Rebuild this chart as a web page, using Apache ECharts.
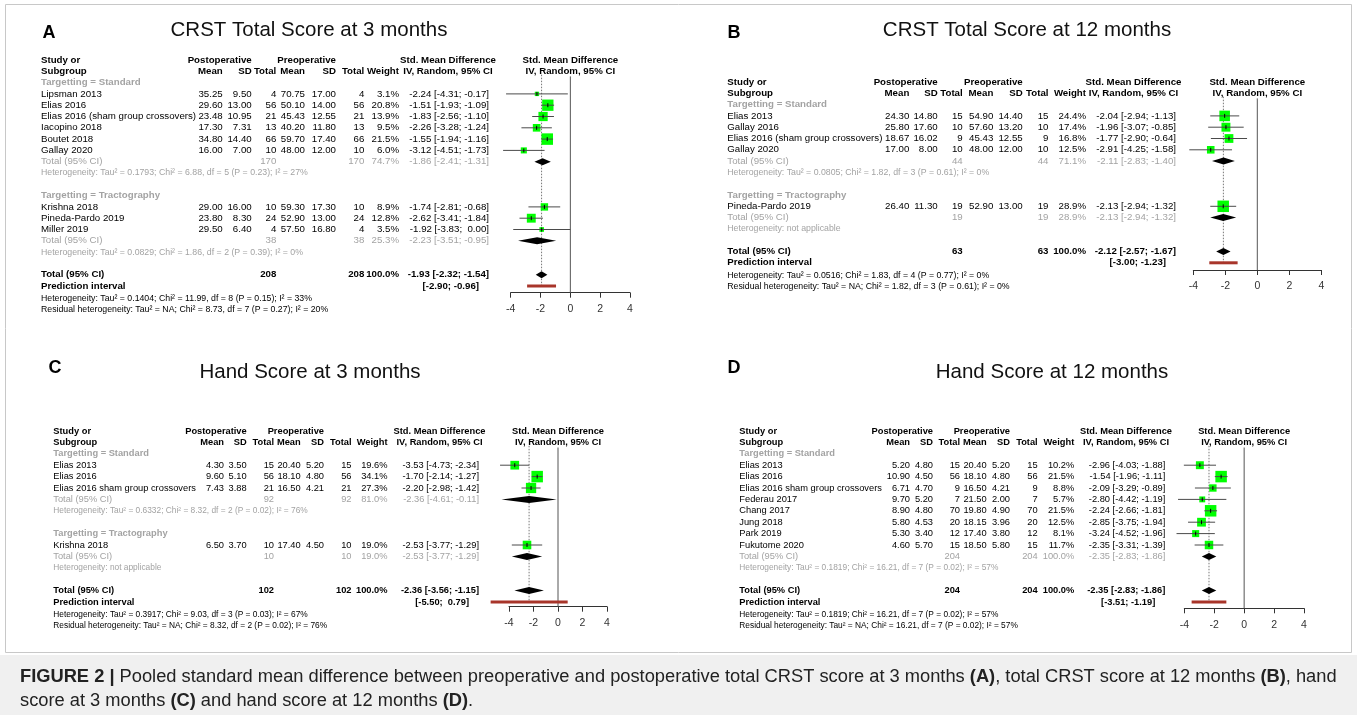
<!DOCTYPE html>
<html><head><meta charset="utf-8">
<script src="https://cdn.jsdelivr.net/npm/echarts@6/dist/echarts.min.js"></script>
<style>html,body{margin:0;padding:0;background:#fff}#c{width:1357px;height:715px}</style>
</head><body><div id="c"></div>
<script>
// ---------------- DATA ----------------
const TICKS = [-4, -2, 0, 2, 4];
const GROUPS = ['Targetting = Standard', 'Targetting = Tractography'];

// Panel A: CRST Total Score at 3 months
const A_studies = ['Lipsman 2013','Elias 2016','Elias 2016 (sham group crossovers)','Iacopino 2018','Boutet 2018','Gallay 2020','Krishna 2018','Pineda-Pardo 2019','Miller 2019'];
const A_group = [0,0,0,0,0,0,1,1,1];
const A_postMean = [35.25,29.60,23.48,17.30,34.80,16.00,29.00,23.80,29.50];
const A_postSD = [9.50,13.00,10.95,7.31,14.40,7.00,16.00,8.30,6.40];
const A_postN = [4,56,21,13,66,10,10,24,4];
const A_preMean = [70.75,50.10,45.43,40.20,59.70,48.00,59.30,52.90,57.50];
const A_preSD = [17.00,14.00,12.55,11.80,17.40,12.00,17.30,13.00,16.80];
const A_preN = [4,56,21,13,66,10,10,24,4];
const A_weight = [3.1,20.8,13.9,9.5,21.5,6.0,8.9,12.8,3.5];
const A_smd = [-2.24,-1.51,-1.83,-2.26,-1.55,-3.12,-1.74,-2.62,-1.92];
const A_lo = [-4.31,-1.93,-2.56,-3.28,-1.94,-4.51,-2.81,-3.41,-3.83];
const A_hi = [-0.17,-1.09,-1.10,-1.24,-1.16,-1.73,-0.68,-1.84,0.00];
const A_subN = [170,38];
const A_subW = [74.7,25.3];
const A_subSmd = [-1.86,-2.23];
const A_subLo = [-2.41,-3.51];
const A_subHi = [-1.31,-0.95];
const A_subHet = ['Heterogeneity: Tau² = 0.1793; Chi² = 6.88, df = 5 (P = 0.23); I² = 27%','Heterogeneity: Tau² = 0.0829; Chi² = 1.86, df = 2 (P = 0.39); I² = 0%'];
const A_total = [208,-1.93,-2.32,-1.54];
const A_pred = [-2.90,-0.96];
const A_het = ['Heterogeneity: Tau² = 0.1404; Chi² = 11.99, df = 8 (P = 0.15); I² = 33%','Residual heterogeneity: Tau² = NA; Chi² = 8.73, df = 7 (P = 0.27); I² = 20%'];

// Panel B: CRST Total Score at 12 months
const B_studies = ['Elias 2013','Gallay 2016','Elias 2016 (sham group crossovers)','Gallay 2020','Pineda-Pardo 2019'];
const B_group = [0,0,0,0,1];
const B_postMean = [24.30,25.80,18.67,17.00,26.40];
const B_postSD = [14.80,17.60,16.02,8.00,11.30];
const B_postN = [15,10,9,10,19];
const B_preMean = [54.90,57.60,45.43,48.00,52.90];
const B_preSD = [14.40,13.20,12.55,12.00,13.00];
const B_preN = [15,10,9,10,19];
const B_weight = [24.4,17.4,16.8,12.5,28.9];
const B_smd = [-2.04,-1.96,-1.77,-2.91,-2.13];
const B_lo = [-2.94,-3.07,-2.90,-4.25,-2.94];
const B_hi = [-1.13,-0.85,-0.64,-1.58,-1.32];
const B_subN = [44,19];
const B_subW = [71.1,28.9];
const B_subSmd = [-2.11,-2.13];
const B_subLo = [-2.83,-2.94];
const B_subHi = [-1.40,-1.32];
const B_subHet = ['Heterogeneity: Tau² = 0.0805; Chi² = 1.82, df = 3 (P = 0.61); I² = 0%','Heterogeneity: not applicable'];
const B_total = [63,-2.12,-2.57,-1.67];
const B_pred = [-3.00,-1.23];
const B_het = ['Heterogeneity: Tau² = 0.0516; Chi² = 1.83, df = 4 (P = 0.77); I² = 0%','Residual heterogeneity: Tau² = NA; Chi² = 1.82, df = 3 (P = 0.61); I² = 0%'];

// Panel C: Hand Score at 3 months
const C_studies = ['Elias 2013','Elias 2016','Elias 2016 sham group crossovers','Krishna 2018'];
const C_group = [0,0,0,1];
const C_postMean = [4.30,9.60,7.43,6.50];
const C_postSD = [3.50,5.10,3.88,3.70];
const C_postN = [15,56,21,10];
const C_preMean = [20.40,18.10,16.50,17.40];
const C_preSD = [5.20,4.80,4.21,4.50];
const C_preN = [15,56,21,10];
const C_weight = [19.6,34.1,27.3,19.0];
const C_smd = [-3.53,-1.70,-2.20,-2.53];
const C_lo = [-4.73,-2.14,-2.98,-3.77];
const C_hi = [-2.34,-1.27,-1.42,-1.29];
const C_subN = [92,10];
const C_subW = [81.0,19.0];
const C_subSmd = [-2.36,-2.53];
const C_subLo = [-4.61,-3.77];
const C_subHi = [-0.11,-1.29];
const C_subHet = ['Heterogeneity: Tau² = 0.6332; Chi² = 8.32, df = 2 (P = 0.02); I² = 76%','Heterogeneity: not applicable'];
const C_total = [102,-2.36,-3.56,-1.15];
const C_pred = [-5.50,0.79];
const C_het = ['Heterogeneity: Tau² = 0.3917; Chi² = 9.03, df = 3 (P = 0.03); I² = 67%','Residual heterogeneity: Tau² = NA; Chi² = 8.32, df = 2 (P = 0.02); I² = 76%'];

// Panel D: Hand Score at 12 months
const D_studies = ['Elias 2013','Elias 2016','Elias 2016 sham group crossovers','Federau 2017','Chang 2017','Jung 2018','Park 2019','Fukutome 2020'];
const D_group = [0,0,0,0,0,0,0,0];
const D_postMean = [5.20,10.90,6.71,9.70,8.90,5.80,5.30,4.60];
const D_postSD = [4.80,4.50,4.70,5.20,4.80,4.53,3.40,5.70];
const D_postN = [15,56,9,7,70,20,12,15];
const D_preMean = [20.40,18.10,16.50,21.50,19.80,18.15,17.40,18.50];
const D_preSD = [5.20,4.80,4.21,2.00,4.90,3.96,3.80,5.80];
const D_preN = [15,56,9,7,70,20,12,15];
const D_weight = [10.2,21.5,8.8,5.7,21.5,12.5,8.1,11.7];
const D_smd = [-2.96,-1.54,-2.09,-2.80,-2.24,-2.85,-3.24,-2.35];
const D_lo = [-4.03,-1.96,-3.29,-4.42,-2.66,-3.75,-4.52,-3.31];
const D_hi = [-1.88,-1.11,-0.89,-1.19,-1.81,-1.94,-1.96,-1.39];
const D_subN = [204];
const D_subW = [100.0];
const D_subSmd = [-2.35];
const D_subLo = [-2.83];
const D_subHi = [-1.86];
const D_subHet = ['Heterogeneity: Tau² = 0.1819; Chi² = 16.21, df = 7 (P = 0.02); I² = 57%'];
const D_total = [204,-2.35,-2.83,-1.86];
const D_pred = [-3.51,-1.19];
const D_het = ['Heterogeneity: Tau² = 0.1819; Chi² = 16.21, df = 7 (P = 0.02); I² = 57%','Residual heterogeneity: Tau² = NA; Chi² = 16.21, df = 7 (P = 0.02); I² = 57%'];

const TITLES = ['CRST Total Score at 3 months','CRST Total Score at 12 months','Hand Score at 3 months','Hand Score at 12 months'];
const LETTERS = ['A','B','C','D'];

// ---------------- LAYOUT ----------------
const FF = '"Liberation Sans", Arial, Helvetica, sans-serif';
const BLACK = '#000', GRAY = '#a3a3a3';
const LAY = [
  {row0:60, rowH:11.3, fs:9.7, fsh:8.75, sx:41, cols:[222.7,251.7,276.3,305,336,364.3,399], ciR:489, ciC:448, x0:510.7, x1:630, axisY:292.7,
   title:[309,30], letter:[49,33]},
  {row0:82, rowH:11.3, fs:9.7, fsh:8.75, sx:727.3, cols:[909.3,937.7,962.7,993.3,1022.7,1048.5,1086], ciR:1176, ciC:1133.5, x0:1193.3, x1:1321.3, axisY:270,
   title:[1027,30], letter:[734,33]},
  {row0:431, rowH:11.4, fs:9.3, fsh:8.35, sx:53.3, cols:[224,246.7,274,300.7,324,351.5,387.5], ciR:479, ciC:439.5, x0:509, x1:607, axisY:606.7,
   title:[310,372], letter:[55,368]},
  {row0:431, rowH:11.4, fs:9.3, fsh:8.35, sx:739.3, cols:[910,933,960,986.7,1010,1037.7,1074.3], ciR:1165.3, ciC:1126, x0:1184.3, x1:1304, axisY:608.3,
   title:[1052,372], letter:[734,368]}
];

function mk(p){ return {studies:eval(p+'_studies'),group:eval(p+'_group'),postMean:eval(p+'_postMean'),postSD:eval(p+'_postSD'),postN:eval(p+'_postN'),
  preMean:eval(p+'_preMean'),preSD:eval(p+'_preSD'),preN:eval(p+'_preN'),weight:eval(p+'_weight'),smd:eval(p+'_smd'),lo:eval(p+'_lo'),hi:eval(p+'_hi'),
  subN:eval(p+'_subN'),subW:eval(p+'_subW'),subSmd:eval(p+'_subSmd'),subLo:eval(p+'_subLo'),subHi:eval(p+'_subHi'),subHet:eval(p+'_subHet'),
  total:eval(p+'_total'),pred:eval(p+'_pred'),het:eval(p+'_het')}; }
const PANELS = ['A','B','C','D'].map(mk);

function f2(v){ return v.toFixed(2); }
function fb(v){ return (v < 0 ? '' : ' ') + v.toFixed(2); }
function ci(s,l,h){ return fb(s) + ' [' + fb(l) + '; ' + fb(h) + ']'; }

function T(x,y,text,o){
  o = o || {};
  const al = o.align || 'left';
  return {type:'text', x:x, y:y, silent:true, z:10,
    style:{text:text, fontFamily:FF, fontSize:o.size||9.7, fontWeight:o.bold?'bold':'normal', fill:o.color||BLACK,
      align:al, textAlign:al, verticalAlign:'middle', textVerticalAlign:'middle'}};
}

const grids=[], xAxes=[], yAxes=[], series=[], graphics=[];

graphics.push({type:'rect', shape:{x:5.5,y:4.5,width:1346,height:648}, style:{fill:'none', stroke:'#c8c8c8', lineWidth:1}, silent:true});

PANELS.forEach((P, gi) => {
  const L = LAY[gi];
  const t = (x,y,text,o) => { o = Object.assign({size:L.fs}, o||{}); graphics.push(T(x,y,text,o)); };
  const nG = P.subN.length;
  const rows = [{k:'h1'},{k:'h2'}];
  for (let g=0; g<nG; g++){
    rows.push({k:'sub', g});
    P.studies.forEach((s,i)=>{ if (P.group[i]===g) rows.push({k:'study', i}); });
    rows.push({k:'subtot', g}); rows.push({k:'subhet', g}); rows.push({k:'blank'});
  }
  rows.push({k:'tot'},{k:'pred'},{k:'het',j:0},{k:'het',j:1});
  const Y = r => L.row0 + r*L.rowH;
  const C = L.cols;
  const xc = (L.x0+L.x1)/2;
  const maxW = Math.max(...P.weight);
  const studyData=[], diaData=[], predData=[];
  let predRow = 0;

  graphics.push(T(L.title[0], L.title[1], TITLES[gi], {size:20.5, align:'center', color:'#111'}));
  graphics.push(T(L.letter[0], L.letter[1], LETTERS[gi], {size:18, bold:true, align:'center'}));

  rows.forEach((row, r) => {
    const y = Y(r);
    switch(row.k){
      case 'h1':
        t(L.sx,y,'Study or',{bold:true});
        t(C[1],y,'Postoperative',{bold:true,align:'right'});
        t(C[4],y,'Preoperative',{bold:true,align:'right'});
        t(L.ciC,y,'Std. Mean Difference',{bold:true,align:'center'});
        t(xc,y,'Std. Mean Difference',{bold:true,align:'center'});
        break;
      case 'h2':
        t(L.sx,y,'Subgroup',{bold:true});
        ['Mean','SD','Total','Mean','SD','Total','Weight'].forEach((h,k)=>t(C[k],y,h,{bold:true,align:'right'}));
        t(L.ciC,y,'IV, Random, 95% CI',{bold:true,align:'center'});
        t(xc,y,'IV, Random, 95% CI',{bold:true,align:'center'});
        break;
      case 'sub':
        t(L.sx,y,GROUPS[row.g],{bold:true,color:GRAY});
        break;
      case 'study': {
        const i=row.i;
        t(L.sx,y,P.studies[i]);
        const vals=[f2(P.postMean[i]),f2(P.postSD[i]),String(P.postN[i]),f2(P.preMean[i]),f2(P.preSD[i]),String(P.preN[i]),P.weight[i].toFixed(1)+'%'];
        vals.forEach((v,k)=>t(C[k],y,v,{align:'right'}));
        t(L.ciR,y,ci(P.smd[i],P.lo[i],P.hi[i]),{align:'right'});
        studyData.push([P.smd[i], r, P.lo[i], P.hi[i], 11.5*Math.sqrt(P.weight[i]/maxW)]);
        break; }
      case 'subtot': {
        const g=row.g;
        t(L.sx,y,'Total (95% CI)',{color:GRAY});
        t(C[2],y,String(P.subN[g]),{color:GRAY,align:'right'});
        t(C[5],y,String(P.subN[g]),{color:GRAY,align:'right'});
        t(C[6],y,P.subW[g].toFixed(1)+'%',{color:GRAY,align:'right'});
        t(L.ciR,y,ci(P.subSmd[g],P.subLo[g],P.subHi[g]),{color:GRAY,align:'right'});
        diaData.push([P.subSmd[g], r, P.subLo[g], P.subHi[g]]);
        break; }
      case 'subhet':
        t(L.sx,y,P.subHet[row.g],{color:GRAY,size:L.fsh});
        break;
      case 'tot':
        t(L.sx,y,'Total (95% CI)',{bold:true});
        t(C[2],y,String(P.total[0]),{bold:true,align:'right'});
        t(C[5],y,String(P.total[0]),{bold:true,align:'right'});
        t(C[6],y,'100.0%',{bold:true,align:'right'});
        t(L.ciR,y,ci(P.total[1],P.total[2],P.total[3]),{bold:true,align:'right'});
        diaData.push([P.total[1], r, P.total[2], P.total[3]]);
        break;
      case 'pred':
        t(L.sx,y,'Prediction interval',{bold:true});
        t(L.ciR-10,y,'[' + fb(P.pred[0]) + '; ' + fb(P.pred[1]) + ']',{bold:true,align:'right'});
        predData.push([P.pred[0], r, P.pred[1]]);
        predRow = r;
        break;
      case 'het':
        t(L.sx,y+1.2,P.het[row.j],{size:L.fsh});
        break;
    }
  });

  const yMax = (L.axisY - L.row0)/L.rowH;
  grids.push({left:L.x0, top:L.row0, width:L.x1-L.x0, height:L.axisY-L.row0, containLabel:false});
  xAxes.push({type:'value', gridIndex:gi, min:-4, max:4, interval:2, position:'bottom',
    axisLine:{show:true, onZero:false, lineStyle:{color:'#333', width:1}},
    axisTick:{show:true, length:5, lineStyle:{color:'#333'}},
    axisLabel:{fontFamily:FF, fontSize:10.5, color:'#333', margin:11, formatter:v=>TICKS.indexOf(v)>=0?String(v):''},
    splitLine:{show:false}});
  yAxes.push({type:'value', gridIndex:gi, inverse:true, min:0, max:yMax, show:false});

  // reference lines: zero (solid) and overall estimate (dotted)
  series.push({type:'custom', xAxisIndex:gi, yAxisIndex:gi, clip:false, silent:true, z:1,
    data:[[0,1.45,yMax,0],[P.total[1],1.3,predRow,1]],
    renderItem:(p,api)=>{
      const a=api.coord([api.value(0),api.value(1)]), b=api.coord([api.value(0),api.value(2)]);
      const dotted=api.value(3)===1;
      return {type:'line', shape:{x1:a[0],y1:a[1],x2:b[0],y2:b[1]},
        style:{stroke:dotted?'#777':'#555', lineWidth:1, lineDash:dotted?[1.5,1.5]:null}};
    }});
  // studies
  series.push({type:'custom', xAxisIndex:gi, yAxisIndex:gi, clip:false, silent:true, z:3, data:studyData,
    renderItem:(p,api)=>{
      const c=api.coord([api.value(0),api.value(1)]);
      const l=api.coord([api.value(2),api.value(1)]), h=api.coord([api.value(3),api.value(1)]);
      const s=api.value(4);
      return {type:'group', children:[
        {type:'rect', shape:{x:c[0]-s/2,y:c[1]-s/2,width:s,height:s}, style:{fill:'#00ff00'}},
        {type:'line', shape:{x1:l[0],y1:c[1],x2:h[0],y2:c[1]}, style:{stroke:'#4a4a4a',lineWidth:1}},
        {type:'line', shape:{x1:c[0],y1:c[1]-2,x2:c[0],y2:c[1]+2}, style:{stroke:'#000',lineWidth:1}}
      ]};
    }});
  // diamonds
  series.push({type:'custom', xAxisIndex:gi, yAxisIndex:gi, clip:false, silent:true, z:3, data:diaData,
    renderItem:(p,api)=>{
      const c=api.coord([api.value(0),api.value(1)]);
      const l=api.coord([api.value(2),api.value(1)]), h=api.coord([api.value(3),api.value(1)]);
      return {type:'polygon', shape:{points:[[l[0],c[1]],[c[0],c[1]-3.5],[h[0],c[1]],[c[0],c[1]+3.5]]}, style:{fill:'#000'}};
    }});
  // prediction interval
  series.push({type:'custom', xAxisIndex:gi, yAxisIndex:gi, clip:false, silent:true, z:3, data:predData,
    renderItem:(p,api)=>{
      const l=api.coord([api.value(0),api.value(1)]), h=api.coord([api.value(2),api.value(1)]);
      return {type:'rect', shape:{x:l[0],y:l[1]-1.5,width:h[0]-l[0],height:3}, style:{fill:'#a8352a'}};
    }});
});

// caption
graphics.push({type:'rect', shape:{x:0,y:655,width:1357,height:60}, style:{fill:'#f0f0f0'}, silent:true});
const CAPF = 18.3;
const capRich = {b:{fontWeight:'bold', fontFamily:FF, fontSize:CAPF, fill:'#222'}};
graphics.push({type:'text', x:20, y:677, silent:true, style:{text:'{b|FIGURE 2 |} Pooled standard mean difference between preoperative and postoperative total CRST score at 3 months {b|(A)}, total CRST score at 12 months {b|(B)}, hand',
  fontFamily:FF, fontSize:CAPF, fill:'#222', verticalAlign:'middle', textVerticalAlign:'middle', rich:capRich}});
graphics.push({type:'text', x:20, y:701, silent:true, style:{text:'score at 3 months {b|(C)} and hand score at 12 months {b|(D)}.',
  fontFamily:FF, fontSize:CAPF, fill:'#222', verticalAlign:'middle', textVerticalAlign:'middle', rich:capRich}});

const chart = echarts.init(document.getElementById('c'), null, {renderer:'canvas'});
chart.setOption({animation:false, backgroundColor:'#fff', grid:grids, xAxis:xAxes, yAxis:yAxes, series:series, graphic:{elements:graphics}});
</script></body></html>
